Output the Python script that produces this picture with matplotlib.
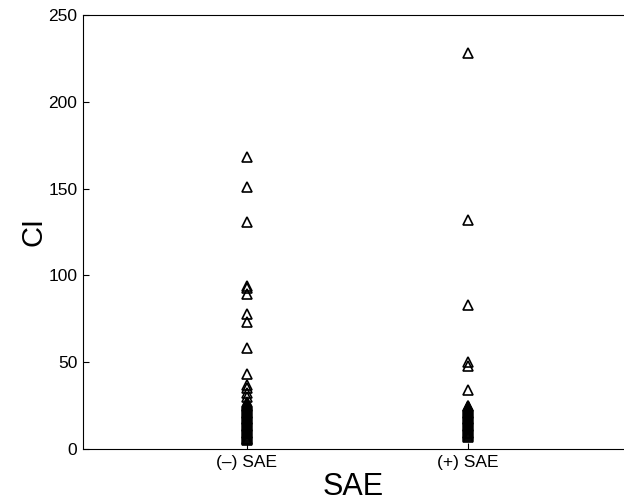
import matplotlib.pyplot as plt

plt.rcParams['font.family'] = ['Liberation Sans', 'DejaVu Sans']

groups = ["(–) SAE", "(+) SAE"]

ci_neg = [168, 151, 131, 94, 93, 89, 78, 73, 58, 43, 37, 35, 32, 30,
          27, 26.5, 26, 25.5, 25, 24.5, 24, 23.5, 23, 22.5, 22, 21.5, 21,
          20.5, 20, 19.5, 19, 18.5, 18, 17.5, 17, 16.5, 16, 15.5, 15,
          14.5, 14, 13.5, 13, 12.5, 12, 11.5, 11, 10.5, 10, 9.5, 9, 8.5,
          8, 7.5, 7, 6.5, 6, 5.5, 5]
ci_pos = [228, 132, 83, 50, 48, 34,
          25, 24.5, 24, 23.5, 23, 22.5, 22, 21.5, 21, 20.5, 20, 19.5, 19,
          18.5, 18, 17.5, 17, 16.5, 16, 15.5, 15, 14.5, 14, 13.5, 13,
          12.5, 12, 11.5, 11, 10.5, 10, 9.5, 9, 8.5, 8, 7.5, 7]

fig = plt.figure(figsize=(6.24, 5.04), dpi=100)
ax = fig.add_axes([83 / 624, 55 / 504, 541 / 624, 434 / 504])

for i, vals in enumerate([ci_neg, ci_pos], start=1):
    ax.plot([i] * len(vals), vals, linestyle="none", marker="^",
            markersize=7, markerfacecolor="none", markeredgecolor="black",
            markeredgewidth=1.2)

ax.set_xlim(0.258, 2.706)
ax.set_ylim(0, 250)
ax.set_xticks([1, 2])
ax.set_xticklabels(groups)
ax.set_yticks([0, 50, 100, 150, 200, 250])
ax.tick_params(direction="in", length=4, labelsize=12.5, pad=4)
ax.spines["right"].set_visible(False)
for s in ["left", "bottom", "top"]:
    ax.spines[s].set_linewidth(0.8)

ax.set_xlabel("SAE", fontsize=22, labelpad=2)
ax.set_ylabel("CI", fontsize=21)
ax.yaxis.set_label_coords(-0.066, 0.5)

fig.savefig("out.png", dpi=100)
